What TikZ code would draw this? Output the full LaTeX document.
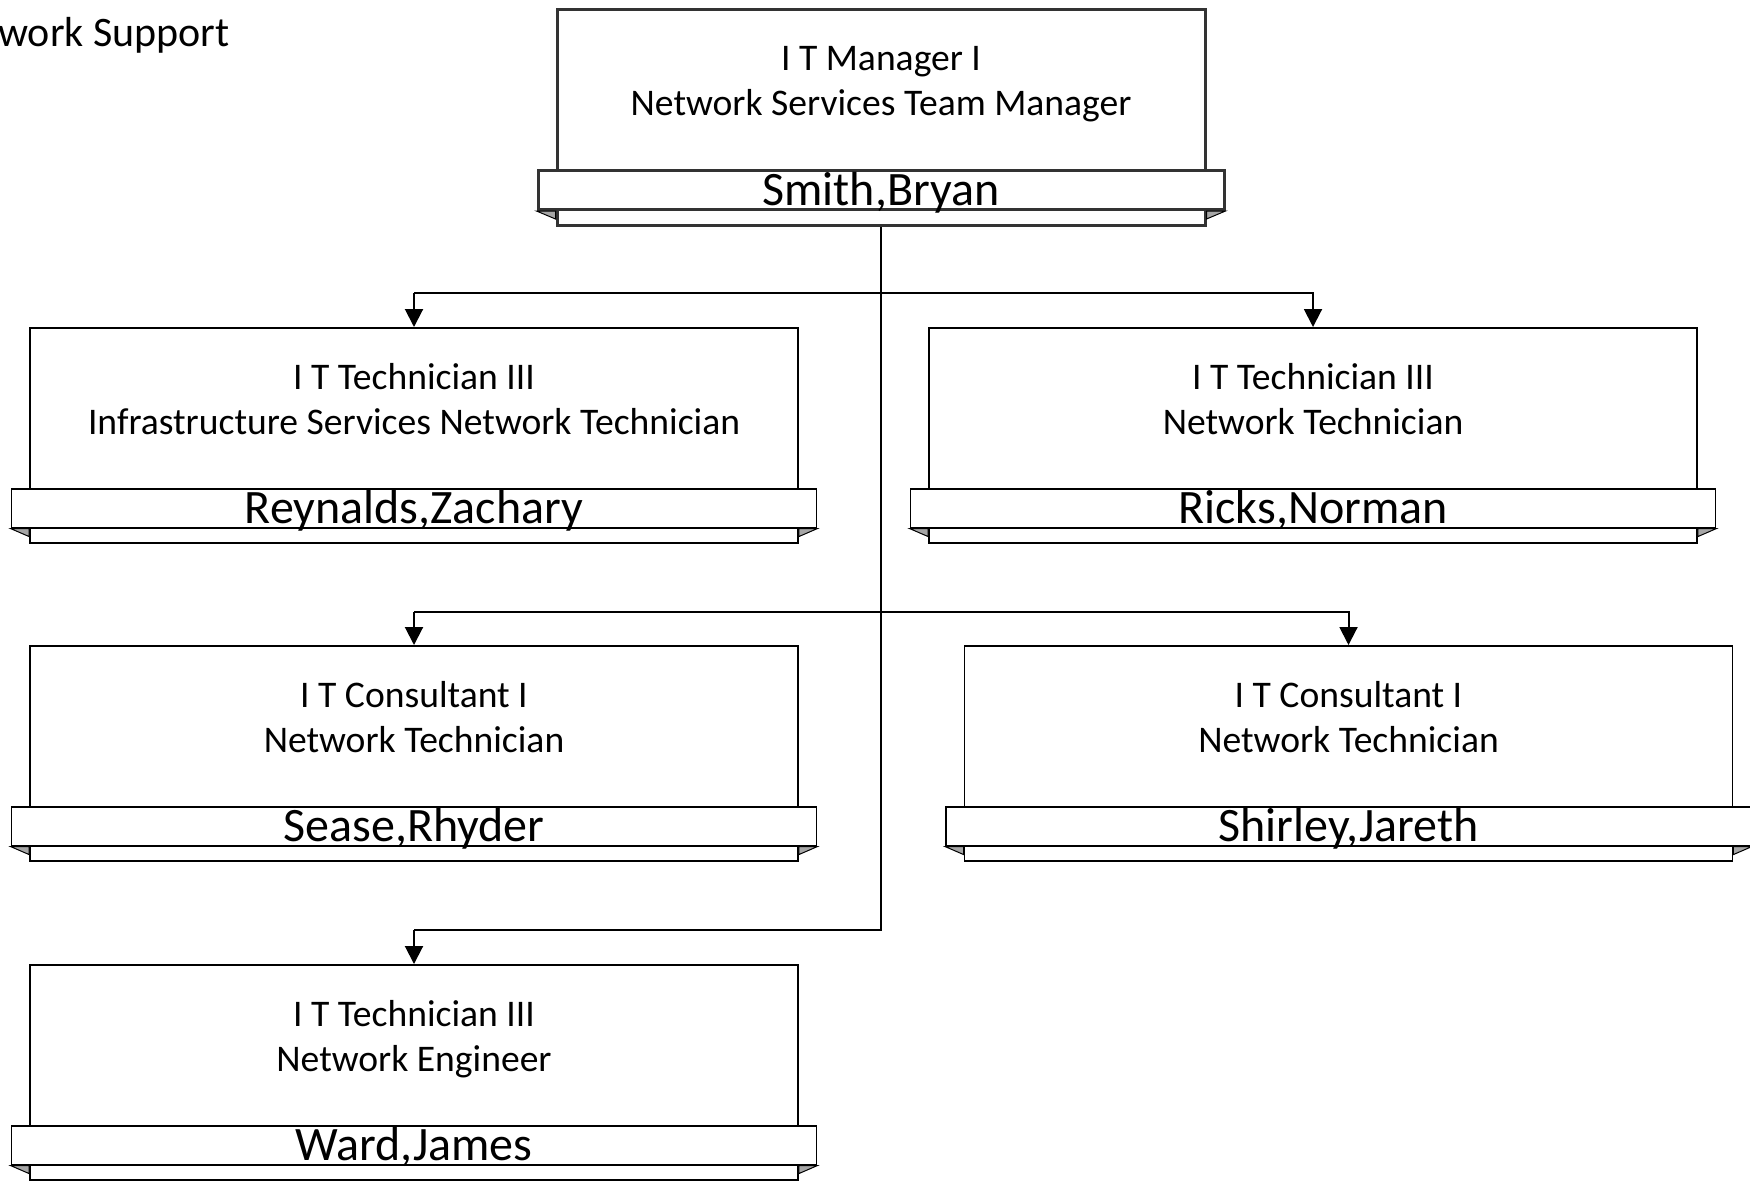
\documentclass[tikz,border=0pt]{standalone}
\usepackage{fontspec}
\setmainfont{Carlito}
\usetikzlibrary{positioning,arrows.meta}

\begin{document}
\begin{tikzpicture}[x=1pt,y=-1pt,
  posbox/.style={draw,fill=white,line width=0.8pt,minimum width=384pt,minimum height=107.5pt,inner sep=0pt,anchor=north},
  namebar/.style={draw,fill=white,line width=0.8pt,minimum width=402.5pt,minimum height=19.5pt,inner sep=0pt,text height=15.5pt,text depth=0pt,font=\fontsize{24}{24}\selectfont},
  jobtitle/.style={align=center,inner sep=0pt,font=\fontsize{18.8}{22.5}\selectfont},
  conn/.style={-{Triangle[length=9pt,width=9pt]},line width=1pt},
  tab/.style={fill=black!35,draw,line width=0.5pt}]

  \useasboundingbox (0,0) rectangle (875,590);
  \clip (0,0) rectangle (875,590);

  \node[anchor=base east,inner sep=0pt,font=\fontsize{21}{21}\selectfont] (dept) at (115,23) {Network Support};

  % boxes
  \node[posbox,draw=black!80,minimum width=324pt,minimum height=108pt,line width=1.5pt] (smith) at (440.5,4) {};
  \node[posbox] (reynalds) at (207,163.5) {};
  \node[posbox] (ricks) at (656.5,163.5) {};
  \node[posbox] (sease) at (207,322.5) {};
  \node[posbox] (shirley) at (674.25,322.5) {};
  \node[posbox] (ward) at (207,482) {};

  % name bars
  \node[namebar,draw=black!80,minimum width=343pt,line width=1.5pt,above=8pt of smith.south] (smith-bar) {Smith,Bryan};
  \node[namebar,above=7.5pt of reynalds.south] (reynalds-bar) {Reynalds,Zachary};
  \node[namebar,above=7.5pt of ricks.south] (ricks-bar) {Ricks,Norman};
  \node[namebar,above=7.5pt of sease.south] (sease-bar) {Sease,Rhyder};
  \node[namebar,above=7.5pt of shirley.south] (shirley-bar) {Shirley,Jareth};
  \node[namebar,above=7.5pt of ward.south] (ward-bar) {Ward,James};

  \foreach \p in {smith,reynalds,ricks,sease,shirley,ward}{
    \filldraw[tab] (\p-bar.south west) -- (\p-bar.south west -| \p.west) -- ++(0,4) -- cycle;
    \filldraw[tab] (\p-bar.south east) -- (\p-bar.south east -| \p.east) -- ++(0,4) -- cycle;
  }

  % job titles
  \node[jobtitle] (smith-job) at ([yshift=-38pt]smith.north) {I T Manager I\\Network Services Team Manager};
  \node[jobtitle] (reynalds-job) at ([yshift=-35.8pt]reynalds.north) {I T Technician III\\Infrastructure Services Network Technician};
  \node[jobtitle] (ricks-job) at ([yshift=-35.8pt]ricks.north) {I T Technician III\\Network Technician};
  \node[jobtitle] (sease-job) at ([yshift=-35.8pt]sease.north) {I T Consultant I\\Network Technician};
  \node[jobtitle] (shirley-job) at ([yshift=-35.8pt]shirley.north) {I T Consultant I\\Network Technician};
  \node[jobtitle] (ward-job) at ([yshift=-37.8pt]ward.north) {I T Technician III\\Network Engineer};

  % connectors
  \coordinate[above=17pt of reynalds.north] (row1);
  \coordinate[above=16.5pt of sease.north] (row2);
  \coordinate[above=17pt of ward.north] (row3);
  \draw[line width=1pt] (smith.south) |- (row3);
  \draw[conn] (row3) -- (ward.north);
  \draw[conn] (row1) -- (reynalds.north);
  \draw[conn] (row1) -| (ricks.north);
  \draw[conn] (row2) -- (sease.north);
  \draw[conn] (row2) -| (shirley.north);
\end{tikzpicture}
\end{document}
